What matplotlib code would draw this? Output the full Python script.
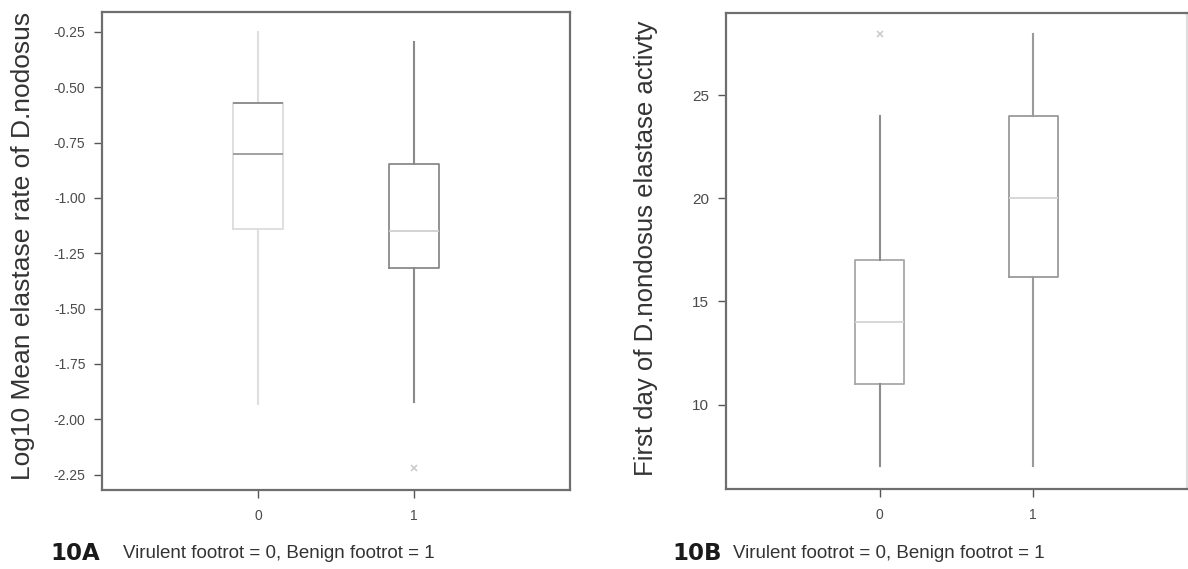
import matplotlib
matplotlib.use('Agg')
from matplotlib import pyplot as plt

plt.rcParams['font.family'] = ['Liberation Sans', 'DejaVu Sans']

# group codes on the x axis
groups = [0, 1]

# 10A: log10 mean elastase rate (box summary per group)
rate_whislo = [-1.93, -1.92]
rate_q1 = [-1.14, -1.315]
rate_med = [-0.80, -1.15]
rate_q3 = [-0.57, -0.845]
rate_whishi = [-0.25, -0.295]
rate_fliers = [[], [-2.22]]
rate_ticks = [-0.25, -0.50, -0.75, -1.00, -1.25, -1.50, -1.75, -2.00, -2.25]

# 10B: first day of elastase activity
day_whislo = [7, 7]
day_q1 = [11, 16.2]
day_med = [14, 20]
day_q3 = [17, 24]
day_whishi = [24, 28]
day_fliers = [[28], []]
day_ticks = [10, 15, 20, 25]


def make_stats(lo, q1, med, q3, hi, fl):
    out = []
    for i in range(len(groups)):
        out.append(dict(whislo=lo[i], q1=q1[i], med=med[i], q3=q3[i],
                        whishi=hi[i], fliers=fl[i], label=str(groups[i])))
    return out


def style_axes(ax, ysize):
    for s in ax.spines.values():
        s.set_color('#6e6e6e')
        s.set_linewidth(1.6)
    ax.tick_params(axis='both', colors='#555555', labelcolor='#4a4a4a',
                   length=6, width=1)
    ax.tick_params(axis='y', labelsize=ysize, pad=6)
    ax.tick_params(axis='x', labelsize=10, pad=8)


def paint(parts, i, box, whisk, med):
    parts['boxes'][i].set_color(box)
    parts['medians'][i].set_color(med)
    parts['whiskers'][2 * i].set_color(whisk)
    parts['whiskers'][2 * i + 1].set_color(whisk)


fig = plt.figure(figsize=(11.88, 5.69), dpi=100)
ax1 = fig.add_axes([0.0859, 0.1388, 0.394, 0.840])
ax2 = fig.add_axes([0.6111, 0.1406, 0.388, 0.8366])

flier_style = dict(marker='x', markersize=5, markeredgecolor='#cccccc',
                   markeredgewidth=1.2)
width = 0.32

stats1 = make_stats(rate_whislo, rate_q1, rate_med, rate_q3, rate_whishi, rate_fliers)
p1 = ax1.bxp(stats1, positions=groups, widths=width, showcaps=False,
             flierprops=flier_style,
             boxprops=dict(linewidth=1.3), whiskerprops=dict(linewidth=1.5),
             medianprops=dict(linewidth=1.3))
paint(p1, 0, '#dcdcdc', '#dedede', '#9a9a9a')
paint(p1, 1, '#8a8a8a', '#8a8a8a', '#cfcfcf')
# darker upper hinge on the first box
ax1.hlines(rate_q3[0], groups[0] - width / 2, groups[0] + width / 2,
           color='#8a8a8a', linewidth=1.3)
ax1.set_xlim(-1, 2)
ax1.set_ylim(-2.32, -0.16)
ax1.set_yticks(rate_ticks)
ax1.set_yticklabels(['%.2f' % t for t in rate_ticks])
ax1.set_ylabel('Log10 Mean elastase rate of D.nodosus', fontsize=19,
               color='#333333')
ax1.yaxis.set_label_coords(-0.143, 0.51)
style_axes(ax1, 10)

stats2 = make_stats(day_whislo, day_q1, day_med, day_q3, day_whishi, day_fliers)
p2 = ax2.bxp(stats2, positions=groups, widths=width, showcaps=False,
             flierprops=flier_style,
             boxprops=dict(linewidth=1.3), whiskerprops=dict(linewidth=1.5),
             medianprops=dict(linewidth=1.3))
paint(p2, 0, '#a8a8a8', '#8c8c8c', '#d4d4d4')
paint(p2, 1, '#9a9a9a', '#9a9a9a', '#d4d4d4')
ax2.set_xlim(-1, 2)
ax2.set_ylim(5.9, 29.0)
ax2.set_yticks(day_ticks)
ax2.set_ylabel('First day of D.nondosus elastase activty', fontsize=18.5,
               color='#333333')
ax2.yaxis.set_label_coords(-0.148, 0.506)
style_axes(ax2, 11)
ax2.spines['right'].set_color('#dddddd')

# figure captions under each panel
cap_y = 1 - 553 / 569
fig.text(50 / 1188, cap_y, '10A', fontsize=16.5, fontweight='bold',
         family=['DejaVu Sans'], color='#1a1a1a', va='center')
fig.text(123 / 1188, cap_y, 'Virulent footrot = 0, Benign footrot = 1',
         fontsize=13.5, color='#333333', va='center')
fig.text(672 / 1188, cap_y, '10B', fontsize=16.5, fontweight='bold',
         family=['DejaVu Sans'], color='#1a1a1a', va='center')
fig.text(733 / 1188, cap_y, 'Virulent footrot = 0, Benign footrot = 1',
         fontsize=13.5, color='#333333', va='center')

fig.savefig('out.png', dpi=100)
